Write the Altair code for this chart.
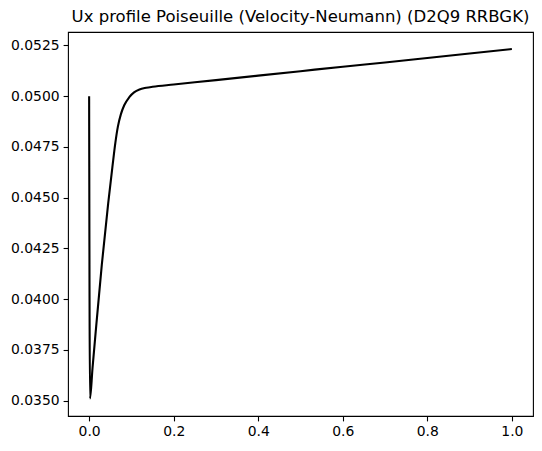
import altair as alt
import pandas as pd

# Ux along the channel
x_pos = [0.0, 0.002, 0.008, 0.016, 0.030, 0.045, 0.055, 0.062, 0.068, 0.075,
         0.083, 0.095, 0.107, 0.119, 0.135, 0.150, 0.200, 0.300, 0.400, 0.500,
         0.600, 0.700, 0.800, 0.900, 1.000]
ux = [0.05000, 0.03510, 0.03660, 0.03850, 0.04170, 0.04470, 0.04650, 0.04770,
      0.04850, 0.04910, 0.04955, 0.04995, 0.05020, 0.05033, 0.05041, 0.05046,
      0.05057, 0.05079, 0.05101, 0.05123, 0.05145, 0.05166, 0.05188, 0.05210,
      0.05232]

x_ticks = [0.0, 0.2, 0.4, 0.6, 0.8, 1.0]
y_ticks = [0.0350, 0.0375, 0.0400, 0.0425, 0.0450, 0.0475, 0.0500, 0.0525]

df = pd.DataFrame({"x": x_pos, "ux": ux})

font = "DejaVu Sans"

axis_style = dict(
    title=None,
    grid=False,
    domain=False,
    tickColor="black",
    tickWidth=1.1,
    tickSize=4.9,
    labelColor="black",
    labelFont=font,
    labelFontSize=13.9,
    labelPadding=4,
)

chart = (
    alt.Chart(df)
    .mark_line(color="black", strokeWidth=2.1, interpolate="monotone")
    .encode(
        x=alt.X("x:Q")
        .scale(domain=[-0.05, 1.05], nice=False, zero=False)
        .axis(values=x_ticks, format=".1f", **axis_style),
        y=alt.Y("ux:Q")
        .scale(domain=[0.03424, 0.05316], nice=False, zero=False)
        .axis(values=y_ticks, format=".4f", **axis_style),
    )
    .properties(
        width=465,
        height=384,
        title=alt.TitleParams(
            "Ux profile Poiseuille (Velocity-Neumann) (D2Q9 RRBGK)",
            font=font,
            fontSize=16.5,
            fontWeight="normal",
            color="black",
            anchor="middle",
            offset=7,
        ),
        autosize=alt.AutoSizeParams(type="none"),
        padding={"left": 60, "top": 24, "right": 1, "bottom": 22},
    )
    .configure_view(stroke="black", strokeWidth=1.1)
)

chart.save("out.html", embed_options={"renderer": "svg", "actions": False})
